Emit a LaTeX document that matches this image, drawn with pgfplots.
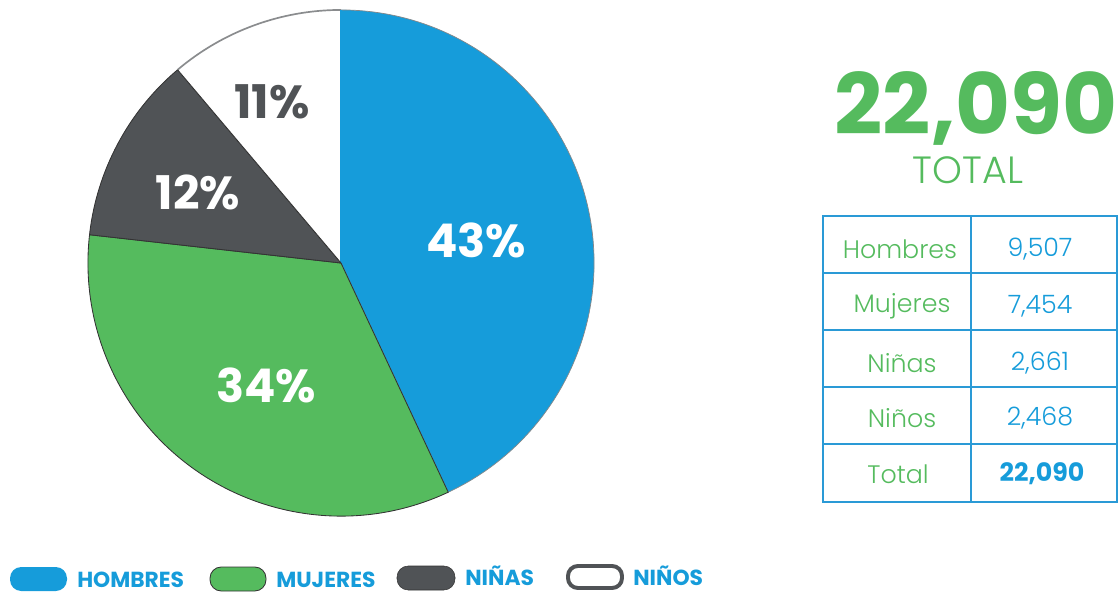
\documentclass[border=0pt]{standalone}
\usepackage{fontspec}
\setmainfont{Poppins}
\newfontfamily\lightfont{Poppins Light}
\usepackage{pgfplots}
\pgfplotsset{compat=1.18}
\definecolor{Azul}{HTML}{169CDA}
\definecolor{Verde}{HTML}{55BB5E}
\definecolor{Gris}{HTML}{505356}
\definecolor{Borde}{HTML}{8A8C8E}
\definecolor{Linea}{HTML}{2A9AD6}

% personas por grupo
\def\vH{9507}
\def\vM{7454}
\def\vNa{2661}
\def\vNo{2468}

\begin{document}
\begin{tikzpicture}
\pgfmathsetmacro\tot{\vH/100+\vM/100+\vNa/100+\vNo/100}
\pgfmathsetmacro\aA{90}
\pgfmathsetmacro\aB{\aA-3.6*(\vH/\tot)}
\pgfmathsetmacro\aC{\aB-3.6*(\vM/\tot)}
\pgfmathsetmacro\aD{\aC-3.6*(\vNa/\tot)}
\pgfmathsetmacro\aE{\aD-3.6*(\vNo/\tot)}
\def\R{6.325cm}
\begin{axis}[
  x=0.025cm, y=0.025cm,
  xmin=0, xmax=1118, ymin=0, ymax=594,
  hide axis, clip=false,
]
\path (axis cs:0,0) rectangle (axis cs:1118,594);
% pie
\filldraw[fill=Azul, draw=Gris!70, line width=0.5pt]
  (axis cs:341,331) -- ++(\aA:\R) arc[start angle=\aA, end angle=\aB, radius=\R] -- cycle;
\filldraw[fill=Verde, draw=black!80, line width=0.6pt]
  (axis cs:341,331) -- ++(\aB:\R) arc[start angle=\aB, end angle=\aC, radius=\R] -- cycle;
\filldraw[fill=Gris, draw=black!80, line width=0.6pt]
  (axis cs:341,331) -- ++(\aC:\R) arc[start angle=\aC, end angle=\aD, radius=\R] -- cycle;
\fill[white]
  (axis cs:341,331) -- ++(\aD:\R) arc[start angle=\aD, end angle=\aE, radius=\R] -- cycle;
\draw[Borde, line width=1.2pt] (axis cs:341,331) ++(\aD:\R) arc[start angle=\aD, end angle=\aE, radius=\R];
\draw[Azul, line width=1pt] (axis cs:341,331) -- ++(90:\R);
\draw[black!80, line width=0.6pt] (axis cs:341,331) -- ++(\aD:\R);
% porcentajes
\node[white, font=\fontsize{33}{33}\selectfont\bfseries] at (axis cs:476,354) {43\%};
\node[white, font=\fontsize{33}{33}\selectfont\bfseries] at (axis cs:266,209) {34\%};
\node[white, font=\fontsize{33}{33}\selectfont\bfseries] at (axis cs:198,402) {12\%};
\node[Gris, font=\fontsize{33}{33}\selectfont\bfseries] at (axis cs:272,492) {11\%};
% total
\node[Verde, inner sep=0pt, font=\fontsize{60}{60}\selectfont\bfseries] at (axis cs:976,486) {22,090};
\node[Verde, inner sep=0pt, font=\fontsize{27}{27}\selectfont\lightfont] at (axis cs:968,424) {TOTAL};
% tabla
\draw[Linea, line width=0.8pt] (axis cs:823,378) rectangle (axis cs:1117,92);
\draw[Linea, line width=0.8pt] (axis cs:971,378) -- (axis cs:971,92);
\draw[Linea, line width=0.8pt] (axis cs:823,321) -- (axis cs:1117,321);
\draw[Linea, line width=0.8pt] (axis cs:823,264) -- (axis cs:1117,264);
\draw[Linea, line width=0.8pt] (axis cs:823,207) -- (axis cs:1117,207);
\draw[Linea, line width=0.8pt] (axis cs:823,150) -- (axis cs:1117,150);
\node[Verde, font=\fontsize{18}{18}\selectfont\lightfont] at (axis cs:900,345) {Hombres};
\node[Verde, font=\fontsize{18}{18}\selectfont\lightfont] at (axis cs:902,288) {Mujeres};
\node[Verde, font=\fontsize{18}{18}\selectfont\lightfont] at (axis cs:902,231) {Niñas};
\node[Verde, font=\fontsize{18}{18}\selectfont\lightfont] at (axis cs:902,176) {Niños};
\node[Verde, font=\fontsize{18}{18}\selectfont\lightfont] at (axis cs:898,120) {Total};
\node[Azul, font=\fontsize{18}{18}\selectfont\lightfont] at (axis cs:1040,345) {9,507};
\node[Azul, font=\fontsize{18}{18}\selectfont\lightfont] at (axis cs:1040,288) {7,454};
\node[Azul, font=\fontsize{18}{18}\selectfont\lightfont] at (axis cs:1040,231) {2,661};
\node[Azul, font=\fontsize{18}{18}\selectfont\lightfont] at (axis cs:1040,176) {2,468};
\node[Azul, font=\fontsize{18}{18}\selectfont\bfseries] at (axis cs:1042,120) {22,090};
% leyenda
\fill[Azul, rounded corners=8pt] (axis cs:10,3) rectangle (axis cs:67,27);
\filldraw[fill=Verde, draw=black!80, line width=0.6pt, rounded corners=8pt] (axis cs:210,3) rectangle (axis cs:266,27);
\filldraw[fill=Gris, draw=black!80, line width=0.4pt, rounded corners=8pt] (axis cs:397,4) rectangle (axis cs:455,28);
\draw[Gris, fill=white, line width=2.8pt, rounded corners=7pt] (axis cs:568,6) rectangle (axis cs:622,28);
\node[Azul, anchor=base west, inner sep=0pt, font=\fontsize{15.5}{15.5}\selectfont\bfseries] at (axis cs:77,7) {HOMBRES};
\node[Azul, anchor=base west, inner sep=0pt, font=\fontsize{15.5}{15.5}\selectfont\bfseries] at (axis cs:276,7) {MUJERES};
\node[Azul, anchor=base west, inner sep=0pt, font=\fontsize{15.5}{15.5}\selectfont\bfseries] at (axis cs:465,9) {NIÑAS};
\node[Azul, anchor=base west, inner sep=0pt, font=\fontsize{15.5}{15.5}\selectfont\bfseries] at (axis cs:633,9) {NIÑOS};
\end{axis}
\end{tikzpicture}
\end{document}
